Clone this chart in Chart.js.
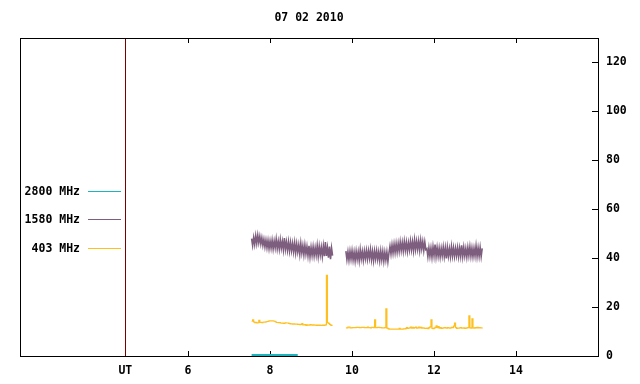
<!DOCTYPE html>
<html>
<head>
<meta charset="utf-8">
<title>07 02 2010</title>
<script src="https://cdn.jsdelivr.net/npm/chart.js@4/dist/chart.umd.min.js"></script>
<style>
  html, body { margin: 0; padding: 0; background: #fff; }
  canvas { display: block; }
</style>
</head>
<body>
<canvas id="chart" width="640" height="384"></canvas>
<script>
// Chart data
const titleText = '07 02 2010';
const seriesLabels = ['2800 MHz', '1580 MHz', '403 MHz'];
const seriesColors = ['#1cb4be', '#7e5e7e', '#ffc01f'];
const xTicks = [4.47, 6, 8, 10, 12, 14];
const utTick = 4.47;
const yTicks = [0, 20, 40, 60, 80, 100, 120];

const sampleStep = 0.025; // hours between samples
const seg1Start = 7.55;
const seg2Start = 9.85;
const gapTime = 9.7;

const f2800Times = [7.55, 7.9, 8.3, 8.675];
const f2800Values = [0.4, 0.4, 0.4, 0.4];

const f1580Seg1 = [
    48.0, 45.2, 48.4, 45.6, 49.1, 46.0, 49.4, 46.3, 48.9, 45.8,
    48.3, 45.2, 47.7, 44.6, 47.4, 44.3, 47.2, 43.9, 47.0, 44.1,
    47.3, 43.8, 47.0, 44.2, 47.8, 43.9, 46.9, 43.7, 47.5, 44.0,
    46.8, 43.4, 48.2, 43.6, 46.6, 43.2, 46.7, 42.9, 46.4, 43.0,
    46.1, 42.6, 46.3, 42.2, 45.9, 42.5, 45.4, 41.6, 46.0, 42.1,
    45.1, 41.4, 45.3, 41.7, 44.7, 41.0, 45.0, 40.6, 44.4, 41.1,
    44.6, 40.9, 44.3, 41.2, 45.1, 40.8, 44.8, 41.3, 44.5, 40.7,
    44.9, 40.8, 46.6, 40.9, 44.3, 40.2, 44.7, 39.6, 44.1, 41.0
];
const f1580Seg2 = [
    42.9, 39.4, 42.6, 39.2, 42.8, 39.6, 43.0, 39.3, 42.5, 38.9,
    42.8, 39.5, 42.6, 39.0, 43.4, 39.7, 42.7, 39.2, 42.9, 39.8,
    43.1, 39.6, 43.0, 39.9, 43.5, 39.4, 42.8, 39.0, 42.9, 39.7,
    43.0, 39.5, 42.6, 39.0, 42.9, 39.3, 42.7, 38.8, 42.4, 39.2,
    42.5, 38.6, 42.1,
    44.9, 41.7, 45.4, 42.1, 45.7, 42.3, 45.9,
    42.5, 46.0, 42.8, 46.6, 43.1, 46.4, 42.9, 46.8, 43.2, 46.5,
    42.8, 46.3, 43.3, 47.0, 43.4, 46.7, 43.0, 47.4, 43.5, 46.9,
    43.6, 47.0, 43.2, 47.3, 43.8, 46.8, 43.1, 46.6, 43.5,
    43.9, 40.6, 44.2, 40.8, 44.1, 40.4, 44.6, 41.0, 45.6, 40.7, 44.3,
    40.8, 44.1, 40.5, 44.0, 40.9, 44.5, 40.7, 44.2, 39.9, 44.4,
    40.8, 43.9, 40.6, 44.7, 40.9, 44.2, 40.7, 44.0, 41.0, 44.3,
    40.6, 44.1, 40.8, 45.2, 40.7, 44.4, 40.9, 43.9, 40.5, 44.3,
    41.0, 44.6, 40.8, 44.1, 40.6, 44.0, 40.9, 44.9, 40.7, 44.2,
    40.8, 44.4, 40.7, 44.0
];

const f403Seg1 = [
    14.2, 14.8, 13.9, 13.6, 13.8, 13.5, 13.6, 14.6, 13.7, 13.8,
    13.6, 13.8, 13.9, 13.8, 14.0, 14.1, 14.2, 14.4, 14.3, 14.4,
    14.4, 14.3, 14.2, 14.0, 13.7, 13.7, 13.6, 13.7, 13.5, 13.4,
    13.5, 13.3, 13.4, 13.6, 13.5, 13.5, 13.3, 13.2, 13.1, 13.1,
    13.0, 13.1, 13.0, 13.0, 13.0, 12.9, 12.9, 12.8, 12.9, 13.2,
    12.7, 12.7, 12.8, 12.5, 12.7, 12.6, 12.6, 12.8, 12.7, 12.6,
    12.7, 12.6, 12.6, 12.5, 12.6, 12.5, 12.6, 12.5, 12.5, 12.6,
    12.5, 12.6, 12.7, 33.0, 13.6, 13.3, 12.9, 12.6, 12.5, 12.5
];
const f403Seg2 = [
    11.5, 11.5, 11.8, 11.8, 11.5, 11.5, 11.6, 11.6, 11.6, 11.6,
    11.7, 11.7, 11.7, 11.6, 11.6, 11.7, 11.7, 11.7, 11.6, 11.6,
    11.6, 11.8, 11.6, 11.6, 11.5, 11.7, 11.7, 11.6, 14.8, 11.6,
    11.6, 11.7, 11.7, 11.6, 11.6, 11.5, 11.5, 11.5, 11.6, 19.3,
    11.4, 11.2, 11.0, 11.0, 11.0, 11.0, 11.0, 11.0, 11.0, 11.0,
    11.0, 11.0, 11.3, 11.0, 11.0, 11.0, 11.1, 11.1, 11.2, 11.6,
    11.3, 11.4, 11.5, 11.8, 11.4, 11.7, 11.4, 11.6, 11.8, 11.4,
    11.5, 11.8, 11.5, 11.7, 11.4, 11.5, 11.4, 11.3, 11.3, 11.4,
    11.2, 11.6, 11.9, 14.8, 11.3, 11.2, 11.4, 11.7, 12.3, 11.6,
    12.0, 11.4, 11.6, 11.3, 11.4, 11.5, 11.6, 11.5, 11.4, 11.6,
    11.5, 11.4, 11.5, 11.7, 11.6, 12.2, 13.5, 11.6, 11.3, 11.4,
    11.4, 11.5, 11.6, 11.4, 11.4, 11.5, 11.3, 11.4, 11.5, 11.6,
    16.4, 11.5, 11.4, 15.2, 11.5, 11.4, 11.6, 11.5, 11.7, 11.5,
    11.6, 11.5, 11.5, 11.6
];

const FONT_FAMILY = '"DejaVu Sans Mono", monospace';
const FONT_SIZE = 11.5;

// === Helpers ===

function samples(start, values) {
    return values.map((v, i) => ({ x: start + i * sampleStep, y: v }));
}

function twoSegments(first, second) {
    return samples(seg1Start, first)
        .concat([{ x: gapTime, y: null }])
        .concat(samples(seg2Start, second));
}

// frame, inward ticks, UT marker, title and key (gnuplot look)
const gnuplotFrame = {
    id: 'gnuplotFrame',
    beforeDatasetsDraw(chart) {
        const { ctx, chartArea: a, scales } = chart;
        ctx.save();

        // UT marker
        const ux = Math.round(scales.x.getPixelForValue(utTick)) + 0.5;
        ctx.strokeStyle = '#7a0000';
        ctx.lineWidth = 1;
        ctx.beginPath();
        ctx.moveTo(ux, a.top);
        ctx.lineTo(ux, a.bottom);
        ctx.stroke();

        // border
        ctx.strokeStyle = '#000';
        ctx.strokeRect(Math.round(a.left) + 0.5, Math.round(a.top) + 0.5,
            Math.round(a.right - a.left), Math.round(a.bottom - a.top));

        // inward ticks
        ctx.beginPath();
        xTicks.forEach(v => {
            if (v === utTick) return;
            const px = Math.round(scales.x.getPixelForValue(v)) + 0.5;
            ctx.moveTo(px, a.bottom);
            ctx.lineTo(px, a.bottom - 5);
            ctx.moveTo(px, a.top);
            ctx.lineTo(px, a.top + 5);
        });
        yTicks.forEach(v => {
            const py = Math.round(scales.y.getPixelForValue(v)) + 0.5;
            ctx.moveTo(a.right, py);
            ctx.lineTo(a.right - 6, py);
        });
        ctx.stroke();

        // title
        ctx.fillStyle = '#000';
        ctx.font = `bold ${FONT_SIZE}px ${FONT_FAMILY}`;
        ctx.textAlign = 'center';
        ctx.textBaseline = 'middle';
        ctx.fillText(titleText, (a.left + a.right) / 2, 18);

        // key
        const keyRows = [191.5, 219.5, 248.5];
        ctx.textAlign = 'right';
        keyRows.forEach((y, i) => {
            ctx.fillStyle = '#000';
            ctx.fillText(seriesLabels[i], 80, y + 1);
            ctx.strokeStyle = seriesColors[i];
            ctx.beginPath();
            ctx.moveTo(88, y);
            ctx.lineTo(121, y);
            ctx.stroke();
        });

        ctx.restore();
    }
};

const tickFont = { family: FONT_FAMILY, size: FONT_SIZE, weight: 'bold' };

new Chart(document.getElementById('chart').getContext('2d'), {
    type: 'line',
    data: {
        datasets: [
            {
                label: seriesLabels[0],
                data: f2800Times.map((t, i) => ({ x: t, y: f2800Values[i] })),
                borderColor: seriesColors[0],
                borderWidth: 2
            },
            {
                label: seriesLabels[1],
                data: twoSegments(f1580Seg1, f1580Seg2),
                borderColor: seriesColors[1],
                borderWidth: 1.6
            },
            {
                label: seriesLabels[2],
                data: twoSegments(f403Seg1, f403Seg2),
                borderColor: seriesColors[2],
                borderWidth: 1.2,
                stepped: true
            }
        ]
    },
    options: {
        responsive: false,
        animation: false,
        devicePixelRatio: 1,
        layout: { padding: { left: 20, top: 38, right: 0, bottom: 0 } },
        elements: {
            point: { radius: 0 },
            line: { tension: 0 }
        },
        datasets: { line: { clip: false, spanGaps: false } },
        plugins: {
            legend: { display: false },
            tooltip: { enabled: false },
            title: { display: false }
        },
        scales: {
            x: {
                type: 'linear',
                min: 1.9,
                max: 16,
                grid: { display: false },
                border: { display: false },
                afterBuildTicks: (scale) => {
                    scale.ticks = xTicks.map(v => ({ value: v }));
                },
                afterFit: (scale) => { scale.height = 28; },
                ticks: {
                    color: '#000',
                    font: tickFont,
                    padding: 0,
                    maxRotation: 0,
                    autoSkip: false,
                    callback: (value) => value === utTick ? 'UT' : String(value)
                }
            },
            y: {
                position: 'right',
                min: 0,
                max: 130,
                grid: { display: false },
                border: { display: false },
                afterBuildTicks: (scale) => {
                    scale.ticks = yTicks.map(v => ({ value: v }));
                },
                afterFit: (scale) => { scale.width = 42; },
                ticks: {
                    color: '#000',
                    font: tickFont,
                    padding: 0,
                    callback: (value) => String(value)
                }
            }
        }
    },
    plugins: [gnuplotFrame]
});
</script>
</body>
</html>
